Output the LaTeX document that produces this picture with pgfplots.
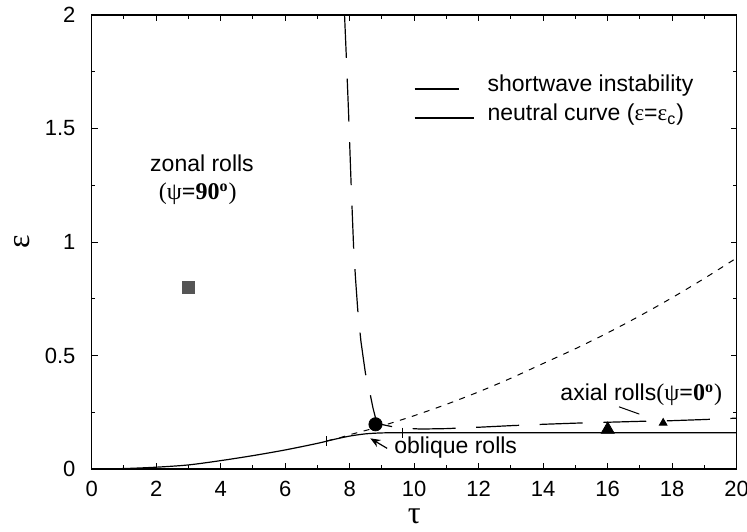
\documentclass[border=0pt]{standalone}
\usepackage{fontspec}
\setmainfont{Liberation Sans}
\newfontfamily\serif{Liberation Serif}
\usepackage{pgfplots}
\pgfplotsset{compat=1.18}
\usetikzlibrary{arrows.meta}
\definecolor{sqgray}{HTML}{555555}
\begin{document}
\begin{tikzpicture}
\begin{axis}[
  name=ax,
  scale only axis, width=322.5pt, height=227pt,
  xmin=0, xmax=20, ymin=0, ymax=2,
  xtick={0,2,...,20}, ytick={0,0.5,1,1.5,2},
  minor x tick num=1, minor y tick num=1,
  major tick length=3pt, minor tick length=1.8pt,
  tick style={black, line width=0.5pt},
  axis line style={line width=0.6pt},
  /pgf/number format/assume math mode=true,
  font=\fontsize{11.5}{13}\selectfont,
  ticklabel style={font=\fontsize{11}{13}\selectfont},
  xticklabel style={yshift=-2.5pt},
  yticklabel style={xshift=-4.6pt},
  xlabel={\serif τ}, ylabel={\serif ε},
  label style={font=\fontsize{16}{18}\selectfont},
  xlabel style={at={(axis description cs:0.5,-0.105)}, anchor=center},
  ylabel style={at={(axis description cs:-0.1086,0.5)}, anchor=center},
  legend style={at={(axis cs:9.98,1.74)}, anchor=north west, draw=none, fill=none,
    inner sep=0pt, column sep=0pt, row sep=0pt,
    nodes={inner sep=0pt, text height=8.5pt, text depth=6pt},
    font=\fontsize{11.5}{13}\selectfont},
  legend cell align=left,
]
% shortwave instability (long dashed)
\addplot[black, line width=0.6pt, dash pattern=on 21.5pt off 10.3pt,
  legend image code/.code={\draw[black, solid, line width=0.6pt] (0pt,0pt) -- (22pt,0pt); \path[draw=none] (0pt,0pt) -- (36.5pt,0pt);}]
coordinates {
(7.84,2.00) (7.90,1.80) (7.97,1.55) (8.04,1.27) (8.12,0.98) (8.18,0.84)
(8.25,0.70) (8.35,0.56) (8.49,0.42) (8.64,0.326) (8.72,0.27) (8.80,0.225)
(8.90,0.205) (9.00,0.196) (9.30,0.187) (9.70,0.180) (10.2,0.176) (11.0,0.178)
(12.0,0.184) (13.0,0.191) (14.0,0.197) (15.0,0.202) (16.0,0.206) (17.0,0.210)
(18.0,0.213) (19.0,0.218) (20.0,0.224)
};
\addlegendentry{shortwave instability}
% neutral curve (solid)
\addplot[black, line width=0.6pt, smooth,
  legend image code/.code={\draw[black, solid, line width=0.6pt] (0pt,0pt) -- (29.5pt,0pt); \path[draw=none] (0pt,0pt) -- (36.5pt,0pt);}]
coordinates {
(0,0) (1,0.002) (2,0.008) (3,0.018) (4,0.037) (5,0.059) (6,0.084) (7,0.113)
(7.5,0.130) (8,0.145) (8.5,0.155) (9,0.159) (9.6,0.160) (12,0.160) (20,0.160)
};
\addlegendentry{neutral curve ({\serif ε}={\serif ε}\textsubscript{c})}
% continuation (short dashed)
\addplot[black, line width=0.5pt, smooth, dash pattern=on 3pt off 3.3pt, forget plot]
coordinates {
(7.3,0.124) (7.7,0.138) (8,0.151) (8.5,0.170) (9,0.19) (9.5,0.212) (10,0.235)
(11,0.285) (12,0.34) (13,0.40) (14,0.465) (15,0.53) (16,0.60) (17,0.675)
(18,0.755) (19,0.84) (20,0.93)
};
% small bars on the neutral curve
\addplot[black, only marks, mark=|, mark size=2.5pt, mark options={line width=0.5pt}, forget plot]
coordinates {(7.27,0.122) (9.63,0.160)};
% markers
\addplot[only marks, mark=square*, mark size=3pt, color=sqgray, forget plot]
coordinates {(3,0.8)};
\addplot[only marks, mark=*, mark size=3.3pt, black, forget plot]
coordinates {(8.80,0.197)};
\addplot[only marks, mark=triangle*, mark size=3.75pt, black, forget plot]
coordinates {(16.0,0.174)};
\addplot[only marks, mark=triangle*, mark size=2.2pt, black, forget plot]
coordinates {(17.72,0.203)};
% annotations
\node[font=\fontsize{11.5}{13}\selectfont] at (axis cs:3.42,1.346) {zonal rolls};
\node[font=\fontsize{12}{13}\selectfont] at (axis cs:3.29,1.211) {\serif (ψ\textbf{=90}\textsuperscript{\textbf{o}})};
\node[font=\fontsize{11.5}{13}\selectfont] at (axis cs:17.04,0.326) {axial rolls{\serif\fontsize{12}{13}\selectfont (ψ\textbf{=0}\textsuperscript{\textbf{o}})}};
\draw[black, line width=0.5pt] (axis cs:16.35,0.274) -- (axis cs:16.98,0.242);
\node[font=\fontsize{11.5}{13}\selectfont, anchor=west, inner sep=0pt] at (axis cs:9.37,0.0925) {oblique rolls};
\draw[black, line width=0.6pt, -{Stealth[length=5pt,width=4pt]}] (axis cs:9.16,0.091) -- (axis cs:8.64,0.135);
\end{axis}
\pgfresetboundingbox
\path[use as bounding box] ([shift={(-45.85pt,-31pt)}]ax.south west) rectangle ([shift={(5.15pt,7.5pt)}]ax.north east);
\end{tikzpicture}
\end{document}
